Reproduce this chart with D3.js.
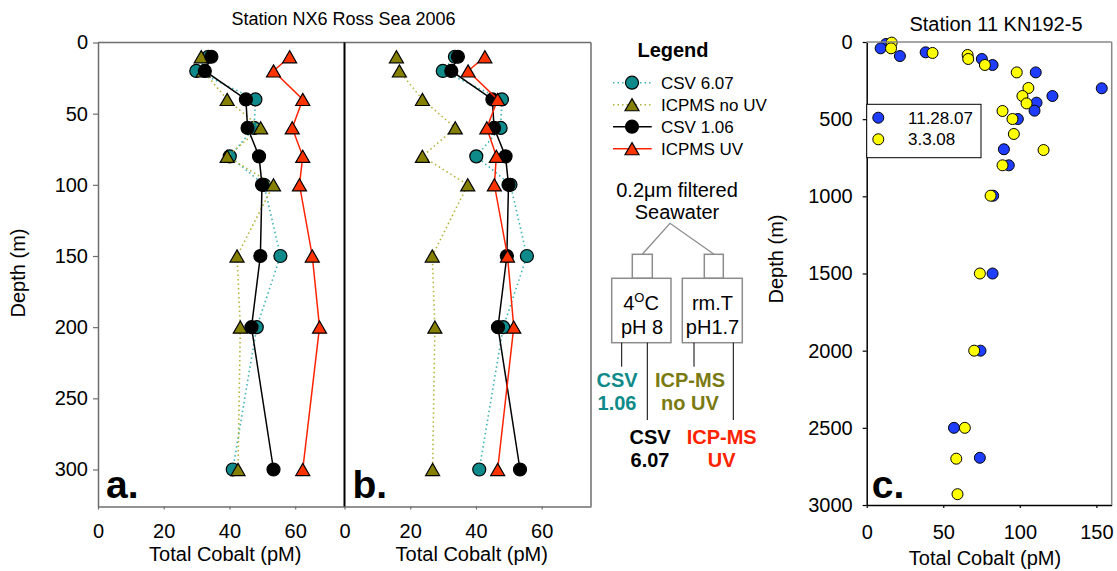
<!DOCTYPE html>
<html>
<head>
<meta charset="utf-8">
<script src="https://cdn.jsdelivr.net/npm/d3@7"></script>
<style>
  body { margin: 0; background: #fff; }
  svg { font-family: Arial, "Liberation Sans", sans-serif; }
</style>
</head>
<body>
<svg id="chart" width="1117" height="571"></svg>
<script>
//////// Data //////////
// Station NX6, Ross Sea 2006
var depthsNX6 = [10, 20, 40, 60, 80, 100, 150, 200, 300];
// CSV values are the same in panels a and b
var csv607 = [33.6, 29.9, 47.9, 47.5, 40.1, 50.5, 55.5, 48.3, 41.0];
var csv106 = [34.5, 32.5, 45.0, 45.5, 49.0, 49.9, 49.4, 46.7, 53.4];
// panel a
var icpNoUvA = [31.4, 32.0, 39.3, 49.5, 39.3, 53.4, 42.3, 43.3, 42.6];
var icpUvA = [58.3, 53.4, 62.3, 59.1, 62.3, 61.3, 65.2, 67.4, 62.3];
// panel b
var icpNoUvB = [15.8, 16.7, 23.7, 33.7, 23.7, 37.5, 26.7, 27.5, 26.8];
var icpUvB = [42.7, 37.6, 46.6, 43.3, 46.2, 45.6, 49.6, 51.5, 46.6];

var seriesNames = ["CSV 6.07", "ICPMS no UV", "CSV 1.06", "ICPMS UV"];
var xTicksNX6 = [0, 20, 40, 60];
var yTicksNX6 = [0, 50, 100, 150, 200, 250, 300];

// Station 11 KN192-5
var depthsNov = [13, 41, 91, 67, 110, 149, 197, 300, 350, 393, 445, 499, 695, 799, 996, 1500, 2000, 2500, 2694];
var cobaltNov = [12.6, 9.1, 21.7, 38.5, 75.2, 82.2, 110.4, 153.5, 121.3, 110.9, 109.6, 98.7, 89.6, 92.8, 82.6, 82.2, 74.3, 57.0, 73.9];
var depthsMar = [4, 41, 71, 84, 110, 149, 197, 298, 350, 398, 447, 499, 596, 700, 799, 996, 1500, 2000, 2500, 2700, 2930];
var cobaltMar = [16.3, 15.9, 43.0, 65.9, 66.3, 77.2, 98.0, 105.6, 101.7, 104.4, 88.7, 95.2, 96.1, 115.5, 88.7, 80.9, 73.9, 70.2, 64.1, 58.5, 59.3];
var dateNames = ["11.28.07", "3.3.08"];
var xTicksKN = [0, 50, 100, 150];
var yTicksKN = [0, 500, 1000, 1500, 2000, 2500, 3000];

//////// Styles //////////
var tealFill = "#0f8a8a", tealLine = "#3cb4b4";
var oliveFill = "#858000", oliveLine = "#b4b43c";
var redFill = "#ff3300", redLine = "#ff2200";
var blueFill = "#1f3dff", yellowFill = "#ffff00";
var frameGrey = "#6e6e6e";

var svg = d3.select("#chart");

var panelTop = 42.5,
    panelBottom = 506.5,
    panelW = 246.5,
    aLeft = 98,
    bLeft = aLeft + panelW;

var yNX6 = d3.scaleLinear().domain([0, 326]).range([panelTop, panelBottom]);

var triangle = d3.symbol().type(d3.symbolTriangle).size(85);

function styleAxis(g, colour) {
    g.select(".domain").attr("stroke", colour).attr("stroke-width", 1.5);
    g.selectAll(".tick line").attr("stroke", colour).attr("stroke-width", 1.2);
    g.selectAll(".tick text").attr("fill", "#000").attr("font-size", "20px");
    g.attr("font-family", null);
}

function drawSeries(g, x, values, lineColour, dotted, fill, shape) {
    var pts = depthsNX6.map(function (d, i) { return [x(values[i]), yNX6(d)]; });
    g.append("path")
        .attr("d", d3.line()(pts))
        .attr("fill", "none")
        .attr("stroke", lineColour)
        .attr("stroke-width", dotted ? 1.6 : 1.5)
        .attr("stroke-dasharray", dotted ? "1.5,3" : null);
    if (shape == "circle") {
        g.selectAll(null).data(pts).enter().append("circle")
            .attr("cx", function (p) { return p[0]; })
            .attr("cy", function (p) { return p[1]; })
            .attr("r", 6.5)
            .attr("fill", fill)
            .attr("stroke", "#000")
            .attr("stroke-width", 1.2);
    } else {
        g.selectAll(null).data(pts).enter().append("path")
            .attr("d", triangle)
            .attr("transform", function (p) { return "translate(" + p[0] + "," + (p[1] + 2) + ")"; })
            .attr("fill", fill)
            .attr("stroke", "#000")
            .attr("stroke-width", 1.2);
    }
}

function drawProfile(left, icpNoUv, icpUv, letter, withLeftAxis) {
    var x = d3.scaleLinear().domain([0, 75]).range([left, left + panelW]);
    var g = svg.append("g");

    var bottomAxis = g.append("g")
        .attr("transform", "translate(0," + panelBottom + ")")
        .call(d3.axisBottom(x).tickValues(xTicksNX6).tickSize(3).tickSizeOuter(0).tickPadding(14.6));
    styleAxis(bottomAxis, frameGrey);

    if (withLeftAxis) {
        var leftAxis = g.append("g")
            .attr("transform", "translate(" + left + ",0)")
            .call(d3.axisLeft(yNX6).tickValues(yTicksNX6).tickSize(5).tickSizeOuter(0).tickPadding(5));
        styleAxis(leftAxis, frameGrey);
    }

    drawSeries(g, x, csv607, tealLine, true, tealFill, "circle");
    drawSeries(g, x, icpNoUv, oliveLine, true, oliveFill, "triangle");
    drawSeries(g, x, csv106, "#000", false, "#000", "circle");
    drawSeries(g, x, icpUv, redLine, false, redFill, "triangle");

    g.append("text")
        .attr("x", left + 8)
        .attr("y", 497.5)
        .attr("font-size", "39px")
        .attr("font-weight", "bold")
        .text(letter);

    g.append("text")
        .attr("x", left + panelW / 2 + 4)
        .attr("y", 561)
        .attr("text-anchor", "middle")
        .attr("font-size", "20px")
        .text("Total Cobalt (pM)");
}

drawProfile(aLeft, icpNoUvA, icpUvA, "a.", true);
drawProfile(bLeft, icpNoUvB, icpUvB, "b.", false);

// frame round panels a and b
svg.append("line")
    .attr("x1", aLeft).attr("x2", bLeft + panelW)
    .attr("y1", panelTop).attr("y2", panelTop)
    .attr("stroke", frameGrey).attr("stroke-width", 1.5);
svg.append("line")
    .attr("x1", bLeft + panelW).attr("x2", bLeft + panelW)
    .attr("y1", panelTop).attr("y2", panelBottom)
    .attr("stroke", frameGrey).attr("stroke-width", 1.5);
svg.append("line")
    .attr("x1", bLeft).attr("x2", bLeft)
    .attr("y1", panelTop).attr("y2", panelBottom)
    .attr("stroke", "#000").attr("stroke-width", 2);

svg.append("text")
    .attr("x", 343.5).attr("y", 25)
    .attr("text-anchor", "middle")
    .attr("font-size", "18px")
    .text("Station NX6 Ross Sea 2006");

svg.append("text")
    .attr("transform", "translate(25," + 273 + ") rotate(-90)")
    .attr("text-anchor", "middle")
    .attr("font-size", "20px")
    .text("Depth (m)");

//////// Legend //////////
svg.append("text")
    .attr("x", 673).attr("y", 56.7)
    .attr("text-anchor", "middle")
    .attr("font-size", "20px")
    .attr("font-weight", "bold")
    .text("Legend");

var legendStyles = [
    { line: tealLine, dotted: true, fill: tealFill, shape: "circle" },
    { line: oliveLine, dotted: true, fill: oliveFill, shape: "triangle" },
    { line: "#000", dotted: false, fill: "#000", shape: "circle" },
    { line: redLine, dotted: false, fill: redFill, shape: "triangle" }
];
seriesNames.forEach(function (name, i) {
    var s = legendStyles[i];
    var cy = 82.7 + i * 22;
    svg.append("line")
        .attr("x1", 613).attr("x2", 651.7)
        .attr("y1", cy).attr("y2", cy)
        .attr("stroke", s.line)
        .attr("stroke-width", s.dotted ? 1.6 : 1.5)
        .attr("stroke-dasharray", s.dotted ? "1.5,3" : null);
    if (s.shape == "circle") {
        svg.append("circle")
            .attr("cx", 632).attr("cy", cy).attr("r", 6.5)
            .attr("fill", s.fill).attr("stroke", "#000").attr("stroke-width", 1.2);
    } else {
        svg.append("path")
            .attr("d", triangle)
            .attr("transform", "translate(632," + (cy + 2) + ")")
            .attr("fill", s.fill).attr("stroke", "#000").attr("stroke-width", 1.2);
    }
    svg.append("text")
        .attr("x", 661).attr("y", cy + 6.3)
        .attr("font-size", "17px")
        .text(name);
});

//////// Sample handling sketch //////////
var sketch = svg.append("g");
var boxGrey = "#8c8c8c";

sketch.append("text").attr("x", 677).attr("y", 197)
    .attr("text-anchor", "middle").attr("font-size", "20px")
    .text("0.2\u03bcm filtered");
sketch.append("text").attr("x", 677).attr("y", 219)
    .attr("text-anchor", "middle").attr("font-size", "20px")
    .text("Seawater");

sketch.append("path")
    .attr("d", "M642.3,254.3 L670,223.3 L714,254.3")
    .attr("fill", "none").attr("stroke", boxGrey).attr("stroke-width", 1.3);

[[632.3, 254.3, 20, 24], [704.3, 254.3, 19, 24], [611.7, 278.3, 59.3, 64.4], [682.3, 278.3, 60, 64.4]]
    .forEach(function (b) {
        sketch.append("rect")
            .attr("x", b[0]).attr("y", b[1]).attr("width", b[2]).attr("height", b[3])
            .attr("fill", "#fff").attr("stroke", boxGrey).attr("stroke-width", 1.5);
    });

var t4 = sketch.append("text").attr("x", 641).attr("y", 310)
    .attr("text-anchor", "middle").attr("font-size", "20px");
t4.append("tspan").text("4");
t4.append("tspan").attr("dy", -8).attr("font-size", "13px").text("O");
t4.append("tspan").attr("dy", 8).text("C");
sketch.append("text").attr("x", 642).attr("y", 333.7)
    .attr("text-anchor", "middle").attr("font-size", "20px").text("pH 8");
sketch.append("text").attr("x", 712.5).attr("y", 310)
    .attr("text-anchor", "middle").attr("font-size", "20px").text("rm.T");
sketch.append("text").attr("x", 712.5).attr("y", 333.7)
    .attr("text-anchor", "middle").attr("font-size", "20px").text("pH1.7");

[[621.7, 366.7], [647.3, 420], [694, 366.7], [733.3, 420]].forEach(function (l) {
    sketch.append("line")
        .attr("x1", l[0]).attr("x2", l[0])
        .attr("y1", 342.7).attr("y2", l[1])
        .attr("stroke", "#000").attr("stroke-width", 1);
});

[["CSV", "1.06", 617, 387, tealFill],
 ["ICP-MS", "no UV", 690, 387, "#7a7a10"],
 ["CSV", "6.07", 650, 444, "#000"],
 ["ICP-MS", "UV", 721.7, 444, redLine]].forEach(function (m) {
    sketch.append("text").attr("x", m[2]).attr("y", m[3])
        .attr("text-anchor", "middle").attr("font-size", "20px").attr("font-weight", "bold")
        .attr("fill", m[4]).text(m[0]);
    sketch.append("text").attr("x", m[2]).attr("y", m[3] + 23.3)
        .attr("text-anchor", "middle").attr("font-size", "20px").attr("font-weight", "bold")
        .attr("fill", m[4]).text(m[1]);
});

//////// Panel c //////////
var cLeft = 866.7, cRight = 1111.7, cTop = 42, cBottom = 505;
var xKN = d3.scaleLinear().domain([0, 160]).range([cLeft, cRight]);
var yKN = d3.scaleLinear().domain([0, 3000]).range([cTop, cBottom]);

var gc = svg.append("g");
svg.append("line").attr("x1", cLeft).attr("x2", cRight).attr("y1", cTop).attr("y2", cTop)
    .attr("stroke", "#888").attr("stroke-width", 1.5);
svg.append("line").attr("x1", cRight).attr("x2", cRight).attr("y1", cTop).attr("y2", cBottom)
    .attr("stroke", "#888").attr("stroke-width", 1.5);

var cBottomAxis = gc.append("g")
    .attr("transform", "translate(0," + cBottom + ")")
    .call(d3.axisBottom(xKN).tickValues(xTicksKN).tickSize(3).tickSizeOuter(0).tickPadding(17));
styleAxis(cBottomAxis, "#000");
var cLeftAxis = gc.append("g")
    .attr("transform", "translate(" + cLeft + ",0)")
    .call(d3.axisLeft(yKN).tickValues(yTicksKN).tickFormat(d3.format("d"))
        .tickSize(4).tickSizeOuter(0).tickPadding(10));
styleAxis(cLeftAxis, "#000");

gc.selectAll(".nov").data(depthsNov).enter().append("circle")
    .attr("cx", function (d, i) { return xKN(cobaltNov[i]); })
    .attr("cy", function (d) { return yKN(d); })
    .attr("r", 5.5)
    .attr("fill", blueFill).attr("stroke", "#000").attr("stroke-width", 1);
gc.selectAll(".mar").data(depthsMar).enter().append("circle")
    .attr("cx", function (d, i) { return xKN(cobaltMar[i]); })
    .attr("cy", function (d) { return yKN(d); })
    .attr("r", 5.5)
    .attr("fill", yellowFill).attr("stroke", "#000").attr("stroke-width", 1);

gc.append("text").attr("x", 871.7).attr("y", 498.3)
    .attr("font-size", "39px").attr("font-weight", "bold").text("c.");

gc.append("text").attr("x", 996).attr("y", 31)
    .attr("text-anchor", "middle").attr("font-size", "20px")
    .text("Station 11 KN192-5");
gc.append("text").attr("x", 985).attr("y", 565)
    .attr("text-anchor", "middle").attr("font-size", "20px")
    .text("Total Cobalt (pM)");
gc.append("text")
    .attr("transform", "translate(783,259) rotate(-90)")
    .attr("text-anchor", "middle").attr("font-size", "20px")
    .text("Depth (m)");

// panel c legend
gc.append("rect").attr("x", cLeft).attr("y", 104.3).attr("width", 114.3).attr("height", 53.4)
    .attr("fill", "#fff").attr("stroke", "#000").attr("stroke-width", 1);
[blueFill, yellowFill].forEach(function (c, i) {
    gc.append("circle").attr("cx", 878.3).attr("cy", 117.7 + i * 21.6).attr("r", 5.5)
        .attr("fill", c).attr("stroke", "#000").attr("stroke-width", 1);
    gc.append("text").attr("x", 908).attr("y", 123.7 + i * 21.6)
        .attr("font-size", "17px").text(dateNames[i]);
});
</script>
</body>
</html>
